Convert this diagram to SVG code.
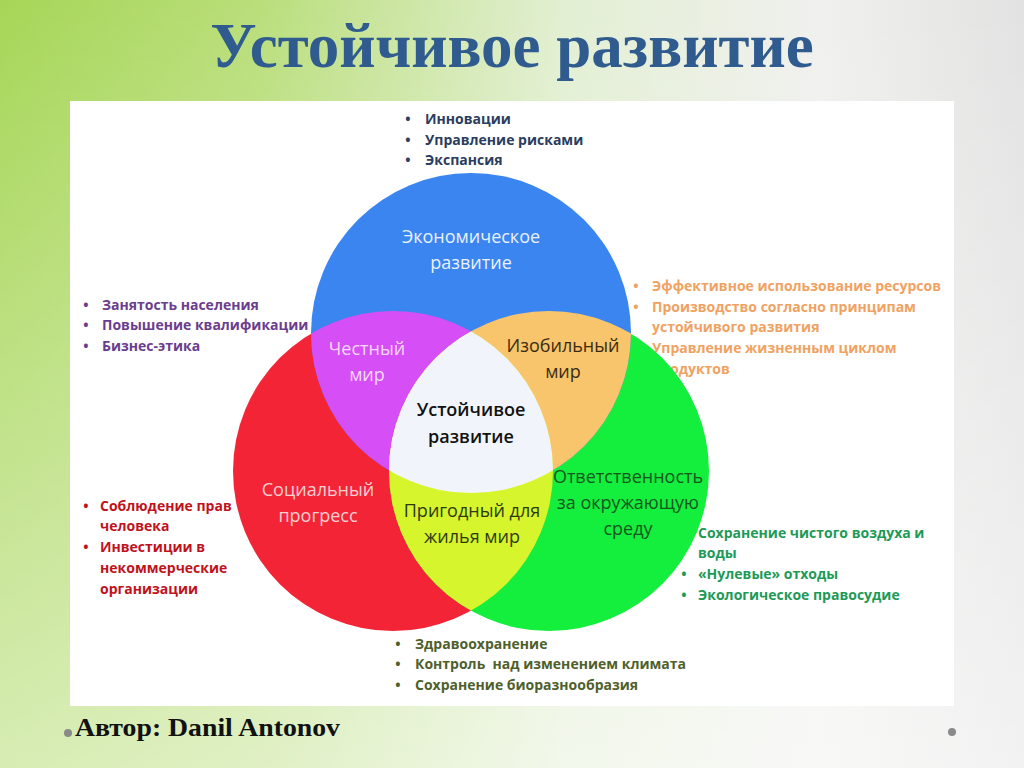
<svg xmlns="http://www.w3.org/2000/svg" width="1024" height="768" viewBox="0 0 1024 768">
<defs>
<linearGradient id="bgH" x1="0" y1="0" x2="1" y2="0">
<stop offset="0" stop-color="#a6d657"/>
<stop offset="0.25" stop-color="#b9de7a"/>
<stop offset="0.55" stop-color="#e2efd2"/>
<stop offset="0.8" stop-color="#f0f0ee"/>
<stop offset="1" stop-color="#e2e2e2"/>
</linearGradient>
<linearGradient id="bgV" x1="0" y1="0" x2="0" y2="1">
<stop offset="0" stop-color="#ffffff" stop-opacity="0"/>
<stop offset="1" stop-color="#ffffff" stop-opacity="0.55"/>
</linearGradient>
<clipPath id="cBlue"><circle cx="471" cy="333" r="160"/></clipPath>
<clipPath id="cRed"><circle cx="393" cy="471" r="160"/></clipPath>
<clipPath id="cGreen"><circle cx="549" cy="471" r="160"/></clipPath>
<style>
.ct{font-family:"Open Sans","Noto Sans","DejaVu Sans",sans-serif;font-size:18px;text-anchor:middle}
.bl{font-family:"Open Sans","Noto Sans","DejaVu Sans",sans-serif;font-size:14px;font-weight:700}
.bu{text-anchor:middle}
</style>
</defs>
<rect width="1024" height="768" fill="url(#bgH)"/>
<rect width="1024" height="768" fill="url(#bgV)"/>
<text x="512" y="67" font-family="'Liberation Serif','DejaVu Serif',serif" font-weight="700" font-size="63" fill="#2f5b8e" text-anchor="middle">Устойчивое развитие</text>
<rect x="70" y="101" width="884" height="605" fill="#ffffff"/>

<g id="list-economic" class="bl" fill="#2b3d5e">
<text class="bu" x="408" y="124">•</text><text x="425" y="124">Инновации</text>
<text class="bu" x="408" y="145">•</text><text x="425" y="145">Управление рисками</text>
<text class="bu" x="408" y="165">•</text><text x="425" y="165">Экспансия</text>
</g>
<g id="list-fair" class="bl" fill="#6b3d8f">
<text class="bu" x="86" y="310">•</text><text x="102" y="310">Занятость населения</text>
<text class="bu" x="86" y="330">•</text><text x="102" y="330">Повышение квалификации</text>
<text class="bu" x="86" y="351">•</text><text x="102" y="351">Бизнес-этика</text>
</g>
<g id="list-abundant" class="bl" fill="#f0a262">
<text class="bu" x="636" y="291">•</text><text x="652" y="291">Эффективное использование ресурсов</text>
<text class="bu" x="636" y="312">•</text><text x="652" y="312">Производство согласно принципам</text>
<text x="652" y="332">устойчивого развития</text>
<text class="bu" x="636" y="353">•</text><text x="652" y="353">Управление жизненным циклом</text>
<text x="652" y="374">продуктов</text>
</g>
<g id="list-social" class="bl" fill="#c0121c" font-size="14.5">
<text class="bu" x="86" y="511">•</text><text x="100" y="511">Соблюдение прав</text>
<text x="100" y="531">человека</text>
<text class="bu" x="86" y="552">•</text><text x="100" y="552">Инвестиции в</text>
<text x="100" y="573">некоммерческие</text>
<text x="100" y="594">организации</text>
</g>
<g id="list-environment" class="bl" fill="#1d9a57">
<text class="bu" x="684" y="538">•</text><text x="698" y="538">Сохранение чистого воздуха и</text>
<text x="698" y="558">воды</text>
<text class="bu" x="684" y="579">•</text><text x="698" y="579">«Нулевые» отходы</text>
<text class="bu" x="684" y="600">•</text><text x="698" y="600">Экологическое правосудие</text>
</g>
<g id="list-livable" class="bl" fill="#4f5f2c">
<text class="bu" x="398" y="649">•</text><text x="415" y="649">Здравоохранение</text>
<text class="bu" x="398" y="669">•</text><text x="415" y="669" xml:space="preserve">Контроль  над изменением климата</text>
<text class="bu" x="398" y="690">•</text><text x="415" y="690">Сохранение биоразнообразия</text>
</g>

<g id="circle-social"><circle cx="393" cy="471" r="160" fill="#f42437"/></g>
<g id="circle-environment"><circle cx="549" cy="471" r="160" fill="#14ee3c"/></g>
<g id="circle-economic"><circle cx="471" cy="333" r="160" fill="#3b85f1"/></g>
<g id="region-fair" clip-path="url(#cBlue)"><circle cx="393" cy="471" r="160" fill="#d54ef6"/></g>
<g id="region-abundant" clip-path="url(#cBlue)"><circle cx="549" cy="471" r="160" fill="#f8c56c"/></g>
<g id="region-livable" clip-path="url(#cRed)"><circle cx="549" cy="471" r="160" fill="#d6f52c"/></g>
<g id="region-sustainable" clip-path="url(#cBlue)"><g clip-path="url(#cRed)"><circle cx="549" cy="471" r="160" fill="#f2f4fb"/></g></g>

<g id="labels">
<text class="ct" x="471" y="243" fill="#eaf1ff">Экономическое</text>
<text class="ct" x="471" y="269" fill="#eaf1ff">развитие</text>
<text class="ct" x="367" y="355" fill="#f7d9fa">Честный</text>
<text class="ct" x="367" y="381" fill="#f7d9fa">мир</text>
<text class="ct" x="563" y="352" fill="#3a2c12">Изобильный</text>
<text class="ct" x="563" y="378" fill="#3a2c12">мир</text>
<text class="ct" x="471" y="416" fill="#111111" font-weight="600">Устойчивое</text>
<text class="ct" x="471" y="443" fill="#111111" font-weight="600">развитие</text>
<text class="ct" x="318" y="496" fill="#f9cfd2">Социальный</text>
<text class="ct" x="318" y="522" fill="#f9cfd2">прогресс</text>
<text class="ct" x="472" y="517" fill="#2c3a12">Пригодный для</text>
<text class="ct" x="472" y="543" fill="#2c3a12">жилья мир</text>
<text class="ct" x="628" y="483" fill="#17561f">Ответственность</text>
<text class="ct" x="628" y="509" fill="#17561f">за окружающую</text>
<text class="ct" x="628" y="535" fill="#17561f">среду</text>
</g>

<text x="75" y="736" font-family="'Liberation Serif','DejaVu Serif',serif" font-weight="700" font-size="26" textLength="265" lengthAdjust="spacingAndGlyphs" fill="#111111">Автор: Danil Antonov</text>
<circle cx="68" cy="733" r="4" fill="#8a8a8a"/>
<circle cx="952" cy="732" r="4" fill="#8a8a8a"/>
</svg>
